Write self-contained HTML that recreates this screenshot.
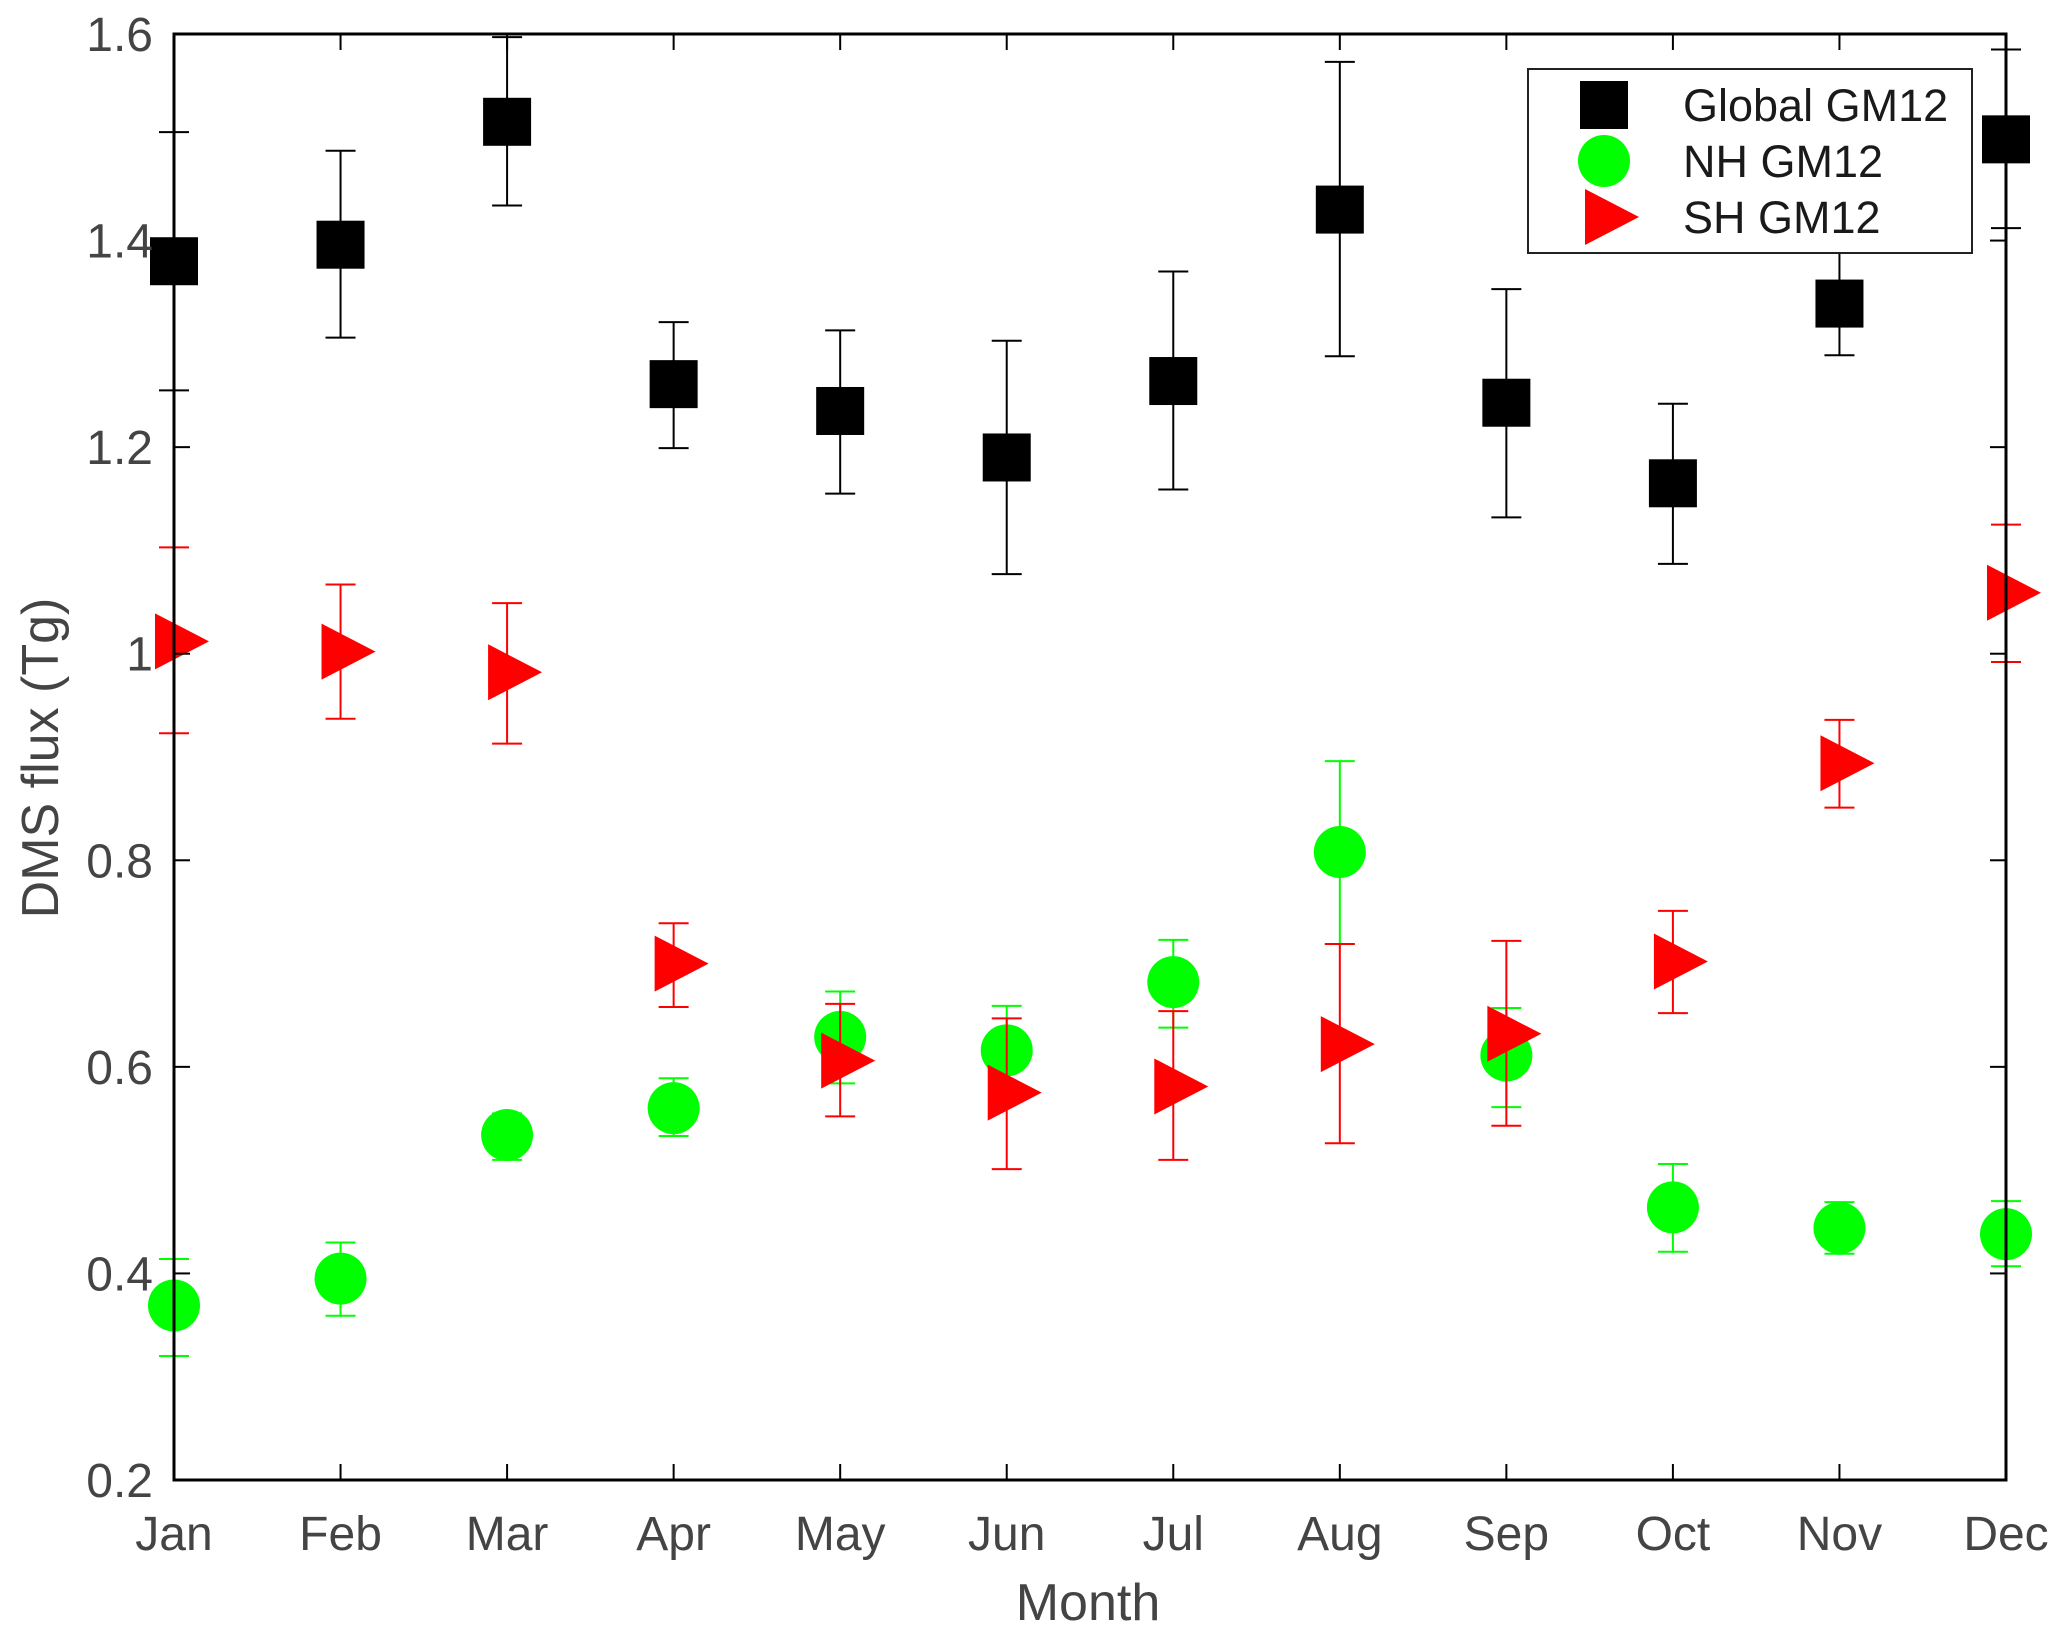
<!DOCTYPE html>
<html><head><meta charset="utf-8"><style>
html,body{margin:0;padding:0;background:#fff;}
svg{display:block;font-family:"Liberation Sans",sans-serif;}
</style></head><body>
<svg id="chart" width="2067" height="1639" viewBox="0 0 2067 1639" xmlns="http://www.w3.org/2000/svg">
<g id="marks"></g>
<g id="axes"></g>
</svg>
<script>
const months = ["Jan","Feb","Mar","Apr","May","Jun","Jul","Aug","Sep","Oct","Nov","Dec"];
const yTicks = [0.2,0.4,0.6,0.8,1,1.2,1.4,1.6];
const yTickLabels = ["0.2","0.4","0.6","0.8","1","1.2","1.4","1.6"];
const globalVal = [1.38,1.396,1.515,1.261,1.235,1.19,1.264,1.43,1.243,1.165,1.339,1.498];
const globalHi  = [1.505,1.487,1.597,1.321,1.313,1.303,1.37,1.573,1.353,1.242,1.388,1.585];
const globalLo  = [1.255,1.306,1.434,1.199,1.155,1.077,1.159,1.288,1.132,1.087,1.289,1.412];
const nhVal = [0.369,0.395,0.534,0.56,0.629,0.616,0.682,0.808,0.611,0.464,0.444,0.438];
const nhHi  = [0.414,0.43,0.555,0.589,0.673,0.659,0.723,0.896,0.657,0.506,0.469,0.47];
const nhLo  = [0.32,0.359,0.51,0.533,0.584,0.57,0.638,0.719,0.561,0.421,0.419,0.407];
const shVal = [1.012,1.002,0.982,0.7,0.606,0.575,0.581,0.622,0.632,0.702,0.894,1.059];
const shHi  = [1.103,1.067,1.049,0.739,0.661,0.647,0.654,0.719,0.722,0.751,0.936,1.125];
const shLo  = [0.923,0.937,0.913,0.658,0.552,0.501,0.51,0.526,0.543,0.652,0.851,0.992];

const NS="http://www.w3.org/2000/svg";
const X0=174,X1=2006,YT=34,YB=1480,YMIN=0.2,YMAX=1.6;
const xs=i=>X0+(X1-X0)*i/(months.length-1);
const ys=v=>YB-(v-YMIN)/(YMAX-YMIN)*(YB-YT);
const marks=document.getElementById('marks'), axes=document.getElementById('axes');
function mk(tag,attrs,parent,text){const e=document.createElementNS(NS,tag);for(const k in attrs)e.setAttribute(k,attrs[k]);if(text!==undefined)e.textContent=text;parent.appendChild(e);return e;}

function errbar(i,lo,hi,color,name){
  const g=mk('g',{stroke:color,'stroke-width':2},marks);
  
  
  const x=xs(i);
  mk('line',{x1:x,x2:x,y1:ys(lo),y2:ys(hi)},g);
  mk('line',{x1:x-15,x2:x+15,y1:ys(lo),y2:ys(lo)},g);
  mk('line',{x1:x-15,x2:x+15,y1:ys(hi),y2:ys(hi)},g);
}
months.forEach((m,i)=>{errbar(i,globalLo[i],globalHi[i],'#000','global-errorbar-'+m.toLowerCase());});
months.forEach((m,i)=>{
  const r=mk('rect',{x:xs(i)-24,y:ys(globalVal[i])-24,width:48,height:48,fill:'#000'},marks);
  
  
});
months.forEach((m,i)=>{errbar(i,nhLo[i],nhHi[i],'#00ff00','nh-errorbar-'+m.toLowerCase());});
months.forEach((m,i)=>{
  const c=mk('circle',{cx:xs(i),cy:ys(nhVal[i]),r:26,fill:'#00ff00'},marks);
  
  
});
months.forEach((m,i)=>{errbar(i,shLo[i],shHi[i],'#ff0000','sh-errorbar-'+m.toLowerCase());});
months.forEach((m,i)=>{
  const x=xs(i),y=ys(shVal[i]);
  const p=mk('polygon',{points:`${x-19},${y-28} ${x+35},${y} ${x-19},${y+28}`,fill:'#ff0000'},marks);
  
  
});

const box=mk('rect',{x:X0,y:YT,width:X1-X0,height:YB-YT,fill:'none',stroke:'#000','stroke-width':3},axes);


yTicks.forEach((v,i)=>{
  const y=ys(v);
  mk('line',{x1:X0,x2:X0+16,y1:y,y2:y,stroke:'#000','stroke-width':2},axes);
  mk('line',{x1:X1-16,x2:X1,y1:y,y2:y,stroke:'#000','stroke-width':2},axes);
  const t=mk('text',{x:153,y:y+17,'text-anchor':'end','font-size':48,fill:'#444'},axes,yTickLabels[i]);
  
  
});
months.forEach((m,i)=>{
  const x=xs(i);
  mk('line',{x1:x,x2:x,y1:YB,y2:YB-16,stroke:'#000','stroke-width':2},axes);
  mk('line',{x1:x,x2:x,y1:YT,y2:YT+16,stroke:'#000','stroke-width':2},axes);
  const t=mk('text',{x:x,y:1550,'text-anchor':'middle','font-size':48,fill:'#444'},axes,m);
  
  
});
const xt=mk('text',{x:1088,y:1620,'text-anchor':'middle','font-size':52,fill:'#444'},axes,'Month');


const yt=mk('text',{x:0,y:0,'text-anchor':'middle','font-size':52,fill:'#444',transform:'translate(58,758) rotate(-90)'},axes,'DMS flux (Tg)');



const lg=mk('g',{},axes);


mk('rect',{x:1528,y:69,width:444,height:184,fill:'#fff',stroke:'#222','stroke-width':2},lg);
const legY=[105,161,217], legNames=['Global GM12','NH GM12','SH GM12'];
const ls=mk('rect',{x:1580,y:81,width:48,height:48,fill:'#000'},lg);


const lc=mk('circle',{cx:1604,cy:161,r:26,fill:'#00ff00'},lg);


const lt=mk('polygon',{points:'1585,189 1639,217 1585,245',fill:'#ff0000'},lg);


legNames.forEach((n,i)=>{
  const t=mk('text',{x:1683,y:legY[i]+16,'font-size':45,fill:'#1a1a1a'},lg,n);
  
  
});
</script>
</body></html>
